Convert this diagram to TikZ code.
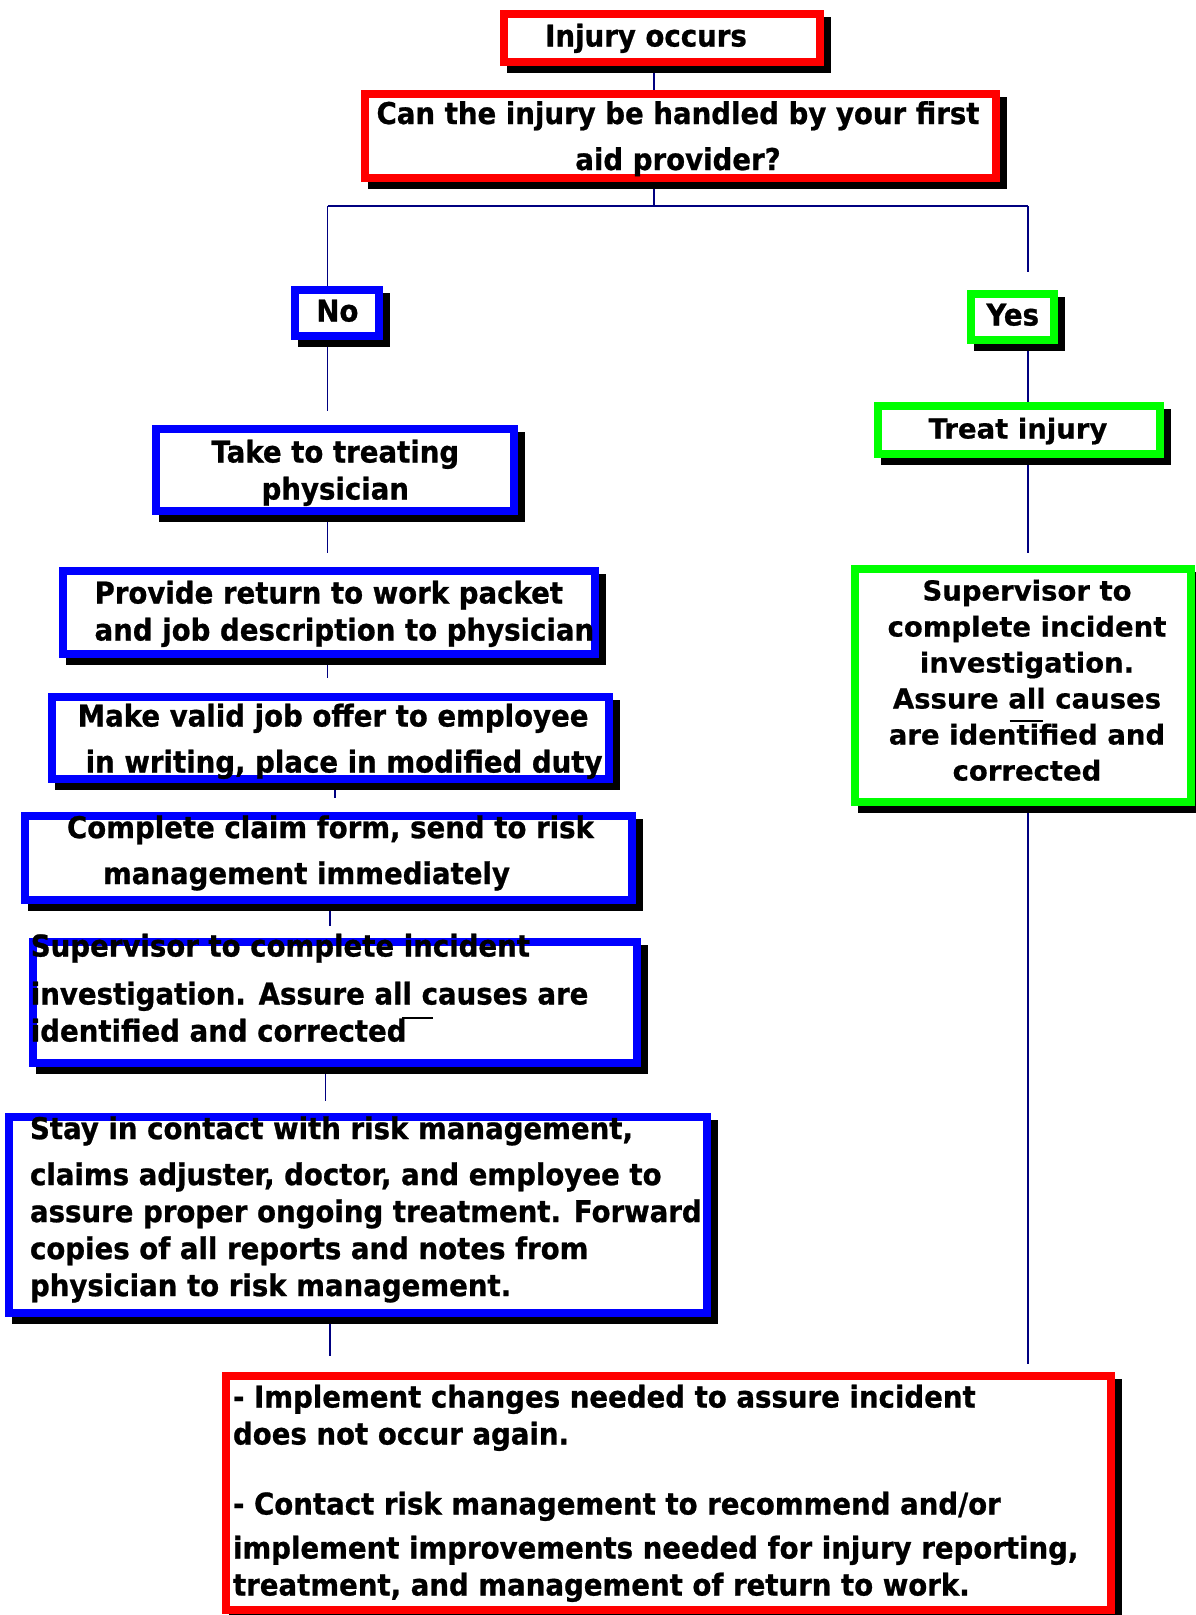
\documentclass[tikz,border=0pt]{standalone}
\usepackage{fontspec}
\setmainfont{DejaVu Sans}
\newfontfamily\tahoma[FakeStretch=0.92, FakeBold=0.8]{DejaVu Sans}
\newfontfamily\verdana[FakeBold=0.5]{DejaVu Sans}
\usetikzlibrary{shadows,backgrounds}

\newcommand\lfont{\tahoma\bfseries\fontsize{30}{37}\selectfont}
\newcommand\rfont{\verdana\bfseries\fontsize{27.5}{36}\selectfont}
% text block centred on the box, shifted by #1 (right) and #2 (up)
\newcommand\ctext[3]{\makebox[0pt]{\hspace*{#1}\raisebox{#2}[0pt][0pt]{\begin{tabular}[t]{@{}c@{}}#3\end{tabular}}\hspace*{-#1}}}
% text block starting at #1 from the box centre
\newcommand\ltext[3]{\makebox[0pt][l]{\hspace*{#1}\raisebox{#2}[0pt][0pt]{\begin{tabular}[t]{@{}l@{}}#3\end{tabular}}}}

\tikzset{
  stepnode/.style={draw=#1, line width=8pt, fill=white, inner sep=0pt, font=\lfont,
    drop shadow={shadow xshift=7pt, shadow yshift=-7pt, fill=black, draw=black, opacity=1}},
  link/.style={draw=navy, line width=1.6pt},
}

\begin{document}
\begin{tikzpicture}[x=1pt, y=-1pt]
\definecolor{navy}{HTML}{000080}
\definecolor{boxred}{HTML}{FF0000}
\definecolor{boxblue}{HTML}{0000FF}
\definecolor{boxgreen}{HTML}{00FF00}
\useasboundingbox (0,0) rectangle (1195,1615);

% top
\node[stepnode=boxred, minimum width=316pt, minimum height=48pt] (inj) at (662,38)
  {\ctext{-16pt}{-8.5pt}{Injury occurs}};
\node[stepnode=boxred, minimum width=631pt, minimum height=84pt] (q) at (680,135.5)
  {\ctext{-2pt}{11.5pt}{Can the injury be handled by your first\\[9pt] aid provider?}};

% left branch
\node[stepnode=boxblue, minimum width=84pt, minimum height=46pt] (no) at (337.4,313)
  {\ctext{0pt}{-8.5pt}{No}};
\node[stepnode=boxblue, minimum width=358pt, minimum height=82pt] (take) at (335.3,470)
  {\ctext{0pt}{7.5pt}{Take to treating\\ physician}};
\node[stepnode=boxblue, minimum width=532pt, minimum height=83pt] (prov) at (328.6,612)
  {\ltext{-234pt}{8.5pt}{Provide return to work packet\\ and job description to physician}};
\node[stepnode=boxblue, minimum width=557pt, minimum height=82pt] (make) at (330.7,738)
  {\ltext{-253pt}{11.5pt}{Make valid job offer to employee\\[9pt] \hspace*{8pt}in writing, place in modified duty}};
\node[stepnode=boxblue, minimum width=607pt, minimum height=84pt] (claim) at (328,857.6)
  {\ltext{-261pt}{19.5pt}{Complete claim form, send to risk\\[9pt] \hspace*{36pt}management immediately}};
\node[stepnode=boxblue, minimum width=604pt, minimum height=121pt] (supl) at (334.8,1002)
  {\ltext{-304pt}{45.5pt}{Supervisor to complete incident\\[11pt] investigation. Assure all causes are\\ identified and corrected}};
\node[stepnode=boxblue, minimum width=698pt, minimum height=196pt] (stay) at (358,1214.6)
  {\ltext{-328pt}{75.5pt}{Stay in contact with risk management,\\[9pt] claims adjuster, doctor, and employee to\\ assure proper ongoing treatment. Forward\\ copies of all reports and notes from\\ physician to risk management.}};

% right branch
\node[stepnode=boxgreen, minimum width=83pt, minimum height=46pt] (yes) at (1012.7,317)
  {\ctext{0pt}{-8.5pt}{Yes}};
\node[stepnode=boxgreen, minimum width=282pt, minimum height=48pt, font=\rfont] (treat) at (1019,430)
  {\ctext{-1pt}{-8.5pt}{Treat injury}};
\node[stepnode=boxgreen, minimum width=336pt, minimum height=233pt, font=\rfont] (supr) at (1023,685)
  {\ctext{4pt}{84.5pt}{Supervisor to\\ complete incident\\ investigation.\\ Assure all causes\\ are identified and\\ corrected}};

% bottom
\node[stepnode=boxred, minimum width=885pt, minimum height=234pt] (bot) at (668,1493)
  {\ltext{-435pt}{85.5pt}{- Implement changes needed to assure incident\\ does not occur again.\\[33pt] - Contact risk management to recommend and/or\\[7pt] implement improvements needed for injury reporting,\\ treatment, and management of return to work.}};

% stray strokes
\draw[black, line width=1.5pt] (1009.6,721) -- (1042.6,721);
\draw[black, line width=1.5pt] (401.8,1018) -- (432.7,1018);

\coordinate (hm) at (654.2,206);
\coordinate (hl) at (327.6,206);
\coordinate (hr) at (1028,206);
\coordinate (c1) at (334.8,0);
\coordinate (c2) at (329.7,0);
\coordinate (c3) at (325.5,0);

\begin{scope}[on background layer]
\draw[link] (inj.south -| hm) -- (q.north -| hm);
\draw[link] (q.south -| hm) -- (hm);
\draw[link] (hl) -- (hr);
\draw[link] (hl) -- (no.north -| hl);
\draw[link, shorten >=18pt] (hr) -- (yes.north -| hr);
\draw[link, shorten >=14pt] (no.south -| hl) -- (take.north -| hl);
\draw[link, shorten >=14pt] (take.south -| hl) -- (prov.north -| hl);
\draw[link, shorten >=15pt] (prov.south -| hl) -- (make.north -| hl);
\draw[link, shorten >=14pt] (make.south -| c1) -- (claim.north -| c1);
\draw[link, shorten >=12pt] (claim.south -| c2) -- (supl.north -| c2);
\draw[link, shorten >=12pt] (supl.south -| c3) -- (stay.north -| c3);
\draw[link, shorten >=16pt] (stay.south -| c2) -- (bot.north -| c2);
\draw[link] (yes.south -| hr) -- (treat.north -| hr);
\draw[link, shorten >=12pt] (treat.south -| hr) -- (supr.north -| hr);
\draw[link, shorten >=8pt] (supr.south -| hr) -- (bot.north -| hr);
\end{scope}
\end{tikzpicture}
\end{document}
